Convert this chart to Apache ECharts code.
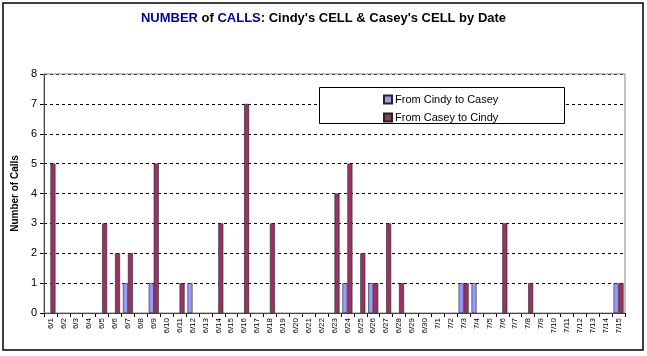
<!DOCTYPE html>
<html>
<head>
<meta charset="utf-8">
<script src="https://cdn.jsdelivr.net/npm/echarts@6/dist/echarts.min.js"></script>
<style>html,body{margin:0;padding:0;background:#fff}#c{width:647px;height:356px}</style>
</head>
<body>
<div id="c"></div>
<script>
const dates = ['6/1','6/2','6/3','6/4','6/5','6/6','6/7','6/8','6/9','6/10','6/11','6/12','6/13','6/14','6/15','6/16','6/17','6/18','6/19','6/20','6/21','6/22','6/23','6/24','6/25','6/26','6/27','6/28','6/29','6/30','7/1','7/2','7/3','7/4','7/5','7/6','7/7','7/8','7/9','7/10','7/11','7/12','7/13','7/14','7/15'];
const cindyToCasey = [0,0,0,0,0,0,1,0,1,0,0,1,0,0,0,0,0,0,0,0,0,0,0,1,0,1,0,0,0,0,0,0,1,1,0,0,0,0,0,0,0,0,0,0,1];
const caseyToCindy = [5,0,0,0,3,2,2,0,5,0,1,0,0,3,0,7,0,3,0,0,0,0,4,5,2,1,3,1,0,0,0,0,1,0,0,3,0,1,0,0,0,0,0,0,1];
const yTicks = [0,1,2,3,4,5,6,7,8];

const noZero = arr => arr.map(v => (v === 0 ? '-' : v));

const chart = echarts.init(document.getElementById('c'));
chart.setOption({
  animation: false,
  backgroundColor: '#fff',
  title: {
    text: '{b|NUMBER} of {b|CALLS}: Cindy\'s CELL & Casey\'s CELL by Date',
    left: 'center', top: 7,
    textStyle: {
      fontFamily: 'Liberation Sans, Arial', fontSize: 13, fontWeight: 'bold', color: '#000',
      rich: { b: { fontFamily: 'Liberation Sans, Arial', fontSize: 13, fontWeight: 'bold', color: '#000099' } }
    }
  },
  graphic: [
    { type: 'rect', shape: { x: 3, y: 3, width: 640, height: 347 }, style: { fill: 'none', stroke: '#000', lineWidth: 1.5 }, silent: true, z: 0 },
    { type: 'rect', shape: { x: 44, y: 74, width: 581, height: 239 }, style: { fill: 'none', stroke: '#888', lineWidth: 1 }, silent: true, z: 1 },
    { type: 'rect', shape: { x: 319.5, y: 87.5, width: 245, height: 36 }, style: { fill: '#fff', stroke: '#000', lineWidth: 1 }, silent: true, z: 5 }
  ],
  legend: {
    orient: 'vertical', left: 378, top: 89, itemWidth: 8, itemHeight: 8, itemGap: 7, z: 10,
    icon: 'rect',
    textStyle: { fontFamily: 'Liberation Sans, Arial', fontSize: 11, color: '#000', padding: [0, 0, 0, -2] },
    data: ['From Cindy to Casey', 'From Casey to Cindy']
  },
  grid: { left: 44, right: 22, top: 74, bottom: 43 },
  xAxis: {
    type: 'category', data: dates,
    axisLine: { lineStyle: { color: '#000', width: 1 } },
    axisTick: { show: true, length: 4, alignWithLabel: false, lineStyle: { color: '#000' } },
    axisLabel: { rotate: 90, interval: 0, fontSize: 8, fontFamily: 'Liberation Sans, Arial', color: '#000', margin: 5 }
  },
  yAxis: {
    type: 'value', min: yTicks[0], max: yTicks[yTicks.length - 1], interval: 1,
    name: 'Number of Calls', nameLocation: 'middle', nameGap: 24, nameRotate: 90,
    nameTextStyle: { fontFamily: 'Liberation Sans, Arial', fontSize: 10, fontWeight: 'bold', color: '#000' },
    axisLine: { show: true, lineStyle: { color: '#000', width: 1 } },
    axisTick: { show: true, length: 4, lineStyle: { color: '#000' } },
    axisLabel: { fontSize: 11, fontFamily: 'Liberation Sans, Arial', color: '#000', margin: 7 },
    splitLine: { show: true, lineStyle: { color: '#000', type: [3, 3], width: 1 } }
  },
  series: [
    { name: 'From Cindy to Casey', type: 'bar', data: noZero(cindyToCasey), barWidth: 5, barGap: '0%',
      itemStyle: { color: '#9999FF', borderColor: '#222', borderWidth: 0.6 } },
    { name: 'From Casey to Cindy', type: 'bar', data: noZero(caseyToCindy), barWidth: 5, barGap: '0%',
      itemStyle: { color: '#993366', borderColor: '#222', borderWidth: 0.6 } }
  ]
});
</script>
</body>
</html>
